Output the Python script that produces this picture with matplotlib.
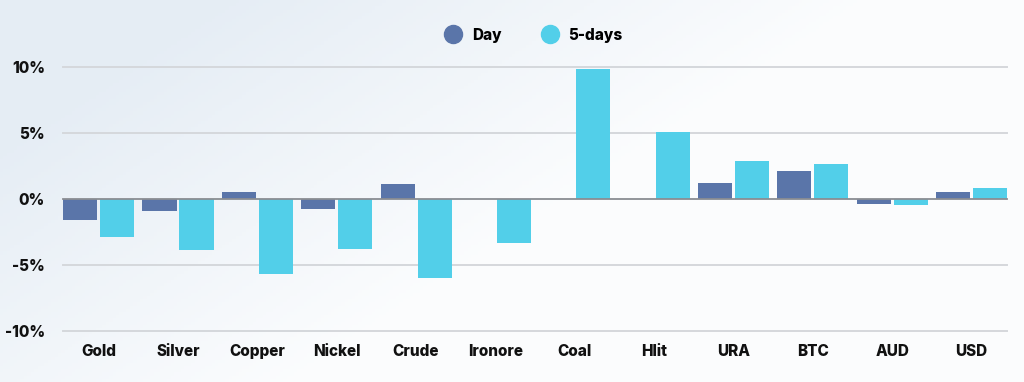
import numpy as np
import matplotlib.pyplot as plt
from matplotlib.lines import Line2D

categories = ["Gold", "Silver", "Copper", "Nickel", "Crude", "Ironore",
              "Coal", "Hlit", "URA", "BTC", "AUD", "USD"]
day_vals = [-1.6, -0.9, 0.5, -0.75, 1.15, 0.0, 0.0, 0.0, 1.2, 2.15, -0.4, 0.5]
five_day_vals = [-2.9, -3.85, -5.65, -3.8, -6.0, -3.3, 9.8, 5.05, 2.9, 2.65, -0.45, 0.8]
y_ticks = [-10, -5, 0, 5, 10]
y_tick_labels = ["-10%", "-5%", "0%", "5%", "10%"]

day_color = "#5a75a9"
five_color = "#52cfe9"
font = "Inter"
weight = "heavy"

fig = plt.figure(figsize=(10.24, 3.82), dpi=100)

# soft background gradient (bluish grey lower-left, white upper-right)
bg = fig.add_axes([0, 0, 1, 1], zorder=-10)
gx, gy = np.meshgrid(np.linspace(0, 1, 300), np.linspace(0, 1, 120))
t = np.clip(1.6 * gx + 0.9 * gy - 0.35, 0, 1)
c0 = np.array([0.90, 0.93, 0.96])
c1 = np.array([0.985, 0.99, 0.995])
img = c0[None, None, :] * (1 - t[..., None]) + c1[None, None, :] * t[..., None]
bg.imshow(img, aspect="auto", extent=[0, 1, 0, 1], origin="upper")
bg.axis("off")

ax = fig.add_axes([0.0576, 0.115, 0.930, 0.728])
ax.patch.set_alpha(0)

x = np.arange(len(categories))
w = 0.43
off = 0.233
ax.bar(x - off, day_vals, w, color=day_color, zorder=3)
ax.bar(x + off, five_day_vals, w, color=five_color, zorder=3)

ax.set_xlim(-0.5, len(categories) - 0.5)
ax.set_ylim(-10.5, 10.5)
for yv in y_ticks:
    if yv == 0:
        continue
    ax.axhline(yv, xmin=0.004, xmax=0.996, color="#d5d8dc", lw=1.4, zorder=1)
ax.axhline(0, xmin=0.004, xmax=0.996, color="#8a8d92", lw=1.3, zorder=4)

ax.set_yticks(y_ticks)
ax.set_yticklabels(y_tick_labels, fontfamily=font, fontweight=weight, fontsize=11, color="#111111")
ax.set_xticks(x)
ax.set_xticklabels(categories, fontfamily=font, fontweight=weight, fontsize=11, color="#111111")
ax.tick_params(length=0, axis="y", pad=10)
ax.tick_params(length=0, axis="x", pad=4)
for s in ax.spines.values():
    s.set_visible(False)

handles = [Line2D([], [], marker="o", ls="", color=day_color, markersize=13),
           Line2D([], [], marker="o", ls="", color=five_color, markersize=13)]
fig.legend(handles, ["Day", "5-days"], loc="center", bbox_to_anchor=(0.518, 0.908),
           ncol=2, frameon=False, handletextpad=0.2, columnspacing=2.2,
           prop={"family": font, "weight": weight, "size": 11})

plt.savefig("out.png", dpi=100)
